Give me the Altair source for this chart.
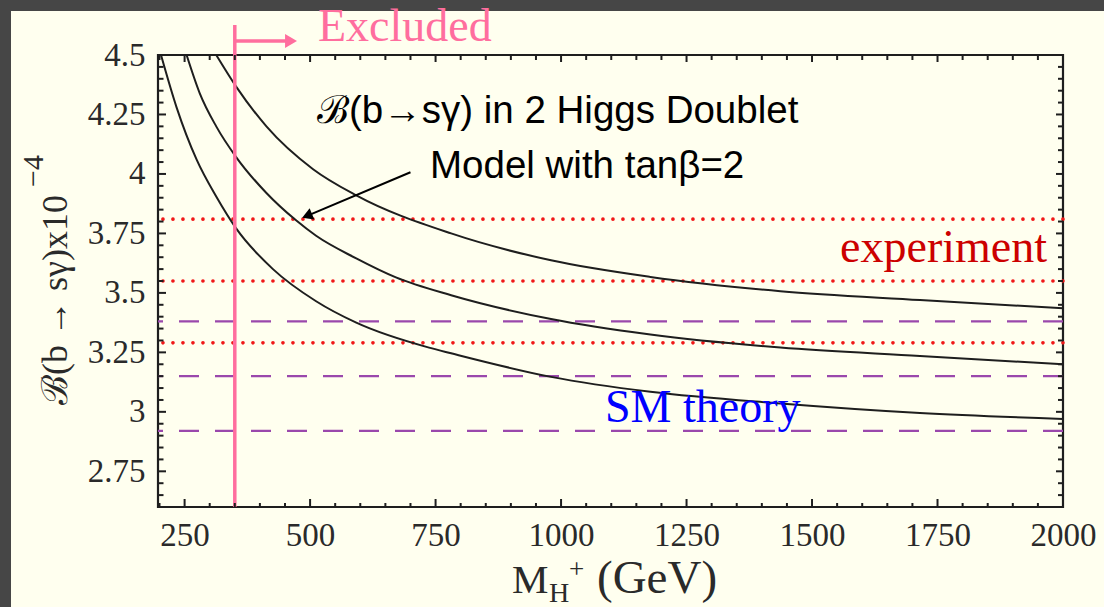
import altair as alt
import pandas as pd
import numpy as np

# ---------------- data ----------------
curve_a_m = [203, 234, 274, 313, 353, 426, 512, 592, 737, 781, 980, 1178, 1437, 1715, 2000]
curve_a_b = [4.50, 4.28, 4.06, 3.905, 3.77, 3.60, 3.465, 3.375, 3.27, 3.246, 3.147, 3.084, 3.035, 2.995, 2.97]
curve_b_m = [254, 280, 313, 353, 413, 472, 512, 592, 671, 781, 980, 1178, 1437, 1715, 2000]
curve_b_b = [4.50, 4.34, 4.20, 4.07, 3.92, 3.805, 3.74, 3.645, 3.565, 3.49, 3.39, 3.325, 3.27, 3.235, 3.20]
curve_c_m = [313, 353, 413, 506, 592, 781, 980, 1178, 1437, 1715, 2000]
curve_c_b = [4.50, 4.366, 4.20, 4.02, 3.91, 3.75, 3.637, 3.567, 3.507, 3.47, 3.435]

experiment_levels = [3.29, 3.55, 3.81]
sm_theory_levels = [2.92, 3.15, 3.38]
excluded_mass = [350]

x_major = [250, 500, 750, 1000, 1250, 1500, 1750, 2000]
x_minor = [v for v in range(200, 2001, 50) if v not in x_major]
y_major = [2.75, 3.0, 3.25, 3.5, 3.75, 4.0, 4.25, 4.5]
y_minor = [round(2.6 + 0.05 * i, 2) for i in range(39)]
y_minor = [v for v in y_minor if all(abs(v - m) > 1e-6 for m in y_major)]

arrow_start = {"m": 700, "b": 4.007}
arrow_head = {"m": 494, "b": 3.824}

# ---------------- layout ----------------
W, H = 905, 452
XDOM = [197, 2000]
YDOM = [2.6, 4.5]
SERIF = "Liberation Serif"
SANS = "Liberation Sans"
INK = "#1e1e1e"
TXT = "#2a2a2a"
DARK = "#464646"

xs = alt.Scale(domain=XDOM, nice=False, zero=False)
ys = alt.Scale(domain=YDOM, nice=False, zero=False)

one = alt.Data(values=[{}])

strip_left = alt.Chart(one).mark_rect(color=DARK).encode(
    x=alt.value(-158), x2=alt.value(-147), y=alt.value(-55), y2=alt.value(H + 100))
strip_top = alt.Chart(one).mark_rect(color=DARK).encode(
    x=alt.value(-158), x2=alt.value(W + 41), y=alt.value(-55), y2=alt.value(-44))

curves = pd.concat([
    pd.DataFrame({"m": curve_a_m, "b": curve_a_b, "c": "a"}),
    pd.DataFrame({"m": curve_b_m, "b": curve_b_b, "c": "b"}),
    pd.DataFrame({"m": curve_c_m, "b": curve_c_b, "c": "c"}),
])

base_axes = alt.Chart(curves).mark_line(color=INK, strokeWidth=2, interpolate="monotone", clip=True).encode(
    x=alt.X("m:Q", scale=xs, axis=alt.Axis(values=x_major, ticks=False, domain=False, grid=False,
                                            title=None, labelFont=SERIF, labelFontSize=33,
                                            labelColor=TXT, labelPadding=12, format="d",
                                            zindex=1, labelFlush=False, labelOverlap=False)),
    y=alt.Y("b:Q", scale=ys, axis=alt.Axis(values=y_major, ticks=False, domain=False, grid=False,
                                            title=None, labelFont=SERIF, labelFontSize=33,
                                            labelColor=TXT, labelPadding=13, zindex=1,
                                            labelFlush=False, labelOverlap=False,
                                            labelExpr="datum.value == 3 || datum.value == 4 ? format(datum.value, 'd') : format(datum.value, '')")),
    detail="c:N",
)

exp_df = pd.DataFrame({"b": experiment_levels})
sm_df = pd.DataFrame({"b": sm_theory_levels})

exp_lines = alt.Chart(exp_df).mark_rule(color="#F01818", strokeWidth=3.6, strokeDash=[0.1, 9.9],
                                        strokeCap="round").encode(y=alt.Y("b:Q", scale=ys))
sm_lines = alt.Chart(sm_df).mark_rule(color="#9A48AC", strokeWidth=2.2, strokeDash=[20, 16]).encode(
    y=alt.Y("b:Q", scale=ys))

exc_df = pd.DataFrame({"m": excluded_mass})
exc_line = alt.Chart(exc_df).mark_rule(color="#FF6E9E", strokeWidth=3.5).encode(
    x=alt.X("m:Q", scale=xs), y=alt.value(-30), y2=alt.value(H))
exc_arrow = alt.Chart(pd.DataFrame({"m": excluded_mass, "m2": [461]})).mark_rule(
    color="#FF6E9E", strokeWidth=3.5).encode(
    x=alt.X("m:Q", scale=xs), x2="m2:Q", y=alt.value(-14))
exc_head = alt.Chart(pd.DataFrame({"m": [462]})).mark_point(
    shape="triangle-right", filled=True, color="#FF6E9E", size=190, opacity=1).encode(
    x=alt.X("m:Q", scale=xs), y=alt.value(-14))

arr_df = pd.DataFrame({"m": [arrow_start["m"]], "b": [arrow_start["b"]],
                       "m2": [arrow_head["m"]], "b2": [arrow_head["b"]]})
ann_arrow = alt.Chart(arr_df).mark_rule(color="black", strokeWidth=2).encode(
    x=alt.X("m:Q", scale=xs), y=alt.Y("b:Q", scale=ys), x2="m2:Q", y2="b2:Q")
ann_head = alt.Chart(pd.DataFrame({"m": [arrow_head["m"]], "b": [arrow_head["b"]]})).mark_point(
    shape="triangle-up", filled=True, color="black", size=150, angle=247.5, opacity=1).encode(
    x=alt.X("m:Q", scale=xs), y=alt.Y("b:Q", scale=ys))

# ticks (inward)
def tick_layer(vals, axis, side, length):
    df = pd.DataFrame({"v": vals})
    ch = alt.Chart(df).mark_rule(color=INK, strokeWidth=2)
    if axis == "x":
        if side == "bottom":
            return ch.encode(x=alt.X("v:Q", scale=xs), y=alt.value(H), y2=alt.value(H - length))
        return ch.encode(x=alt.X("v:Q", scale=xs), y=alt.value(0), y2=alt.value(length))
    if side == "left":
        return ch.encode(y=alt.Y("v:Q", scale=ys), x=alt.value(0), x2=alt.value(length))
    return ch.encode(y=alt.Y("v:Q", scale=ys), x=alt.value(W), x2=alt.value(W - length))

ticks = [
    tick_layer(x_major, "x", "bottom", 8), tick_layer(x_minor, "x", "bottom", 4),
    tick_layer(x_major, "x", "top", 7), tick_layer(x_minor, "x", "top", 5),
    tick_layer(y_major, "y", "left", 8), tick_layer(y_minor, "y", "left", 5.5),
    tick_layer(y_major, "y", "right", 7), tick_layer(y_minor, "y", "right", 5),
]

def label(text, x, y, size, color, font, align="left", angle=0):
    return alt.Chart(pd.DataFrame({"t": [text]})).mark_text(
        align=align, baseline="alphabetic", fontSize=size, color=color, font=font,
        angle=angle).encode(text="t:N", x=alt.value(x), y=alt.value(y))

texts = [
    label("Excluded", 160, -14, 46, "#FF6E9E", SERIF),
    label("ℬ(b→sγ) in 2 Higgs Doublet", 159, 68, 38.5, "black", SANS),
    label("Model with tanβ=2", 272, 123, 38.5, "black", SANS),
    label("experiment", 889, 207, 46, "#CC0000", SERIF, align="right"),
    label("SM theory", 447, 367, 46, "#0000FF", SERIF),
    # x-axis title  M_H+ (GeV)
    label("M", 354, 538, 41, TXT, SERIF),
    label("H", 391, 547, 28, TXT, SERIF),
    label("+", 411, 523, 27, TXT, SERIF),
    label("(GeV)", 439, 538, 47, TXT, SERIF),
    # y-axis title
    label("ℬ(b → sγ)x10", -91, 350, 36, TXT, SERIF, angle=270),
    label("−4", -115, 132, 30, TXT, SERIF, angle=270),
]

chart = alt.layer(
    strip_left, strip_top, exp_lines, sm_lines, base_axes, exc_line, exc_arrow, exc_head,
    ann_arrow, ann_head, *ticks, *texts
).properties(
    width=W, height=H,
    padding={"left": 158, "top": 55, "right": 41, "bottom": 100},
    autosize=alt.AutoSizeParams(type="none"),
    background="#FFFFEF",
).configure_view(stroke=INK, strokeWidth=2.2)

chart.save("out.html", embed_options={"renderer": "svg", "actions": False})
